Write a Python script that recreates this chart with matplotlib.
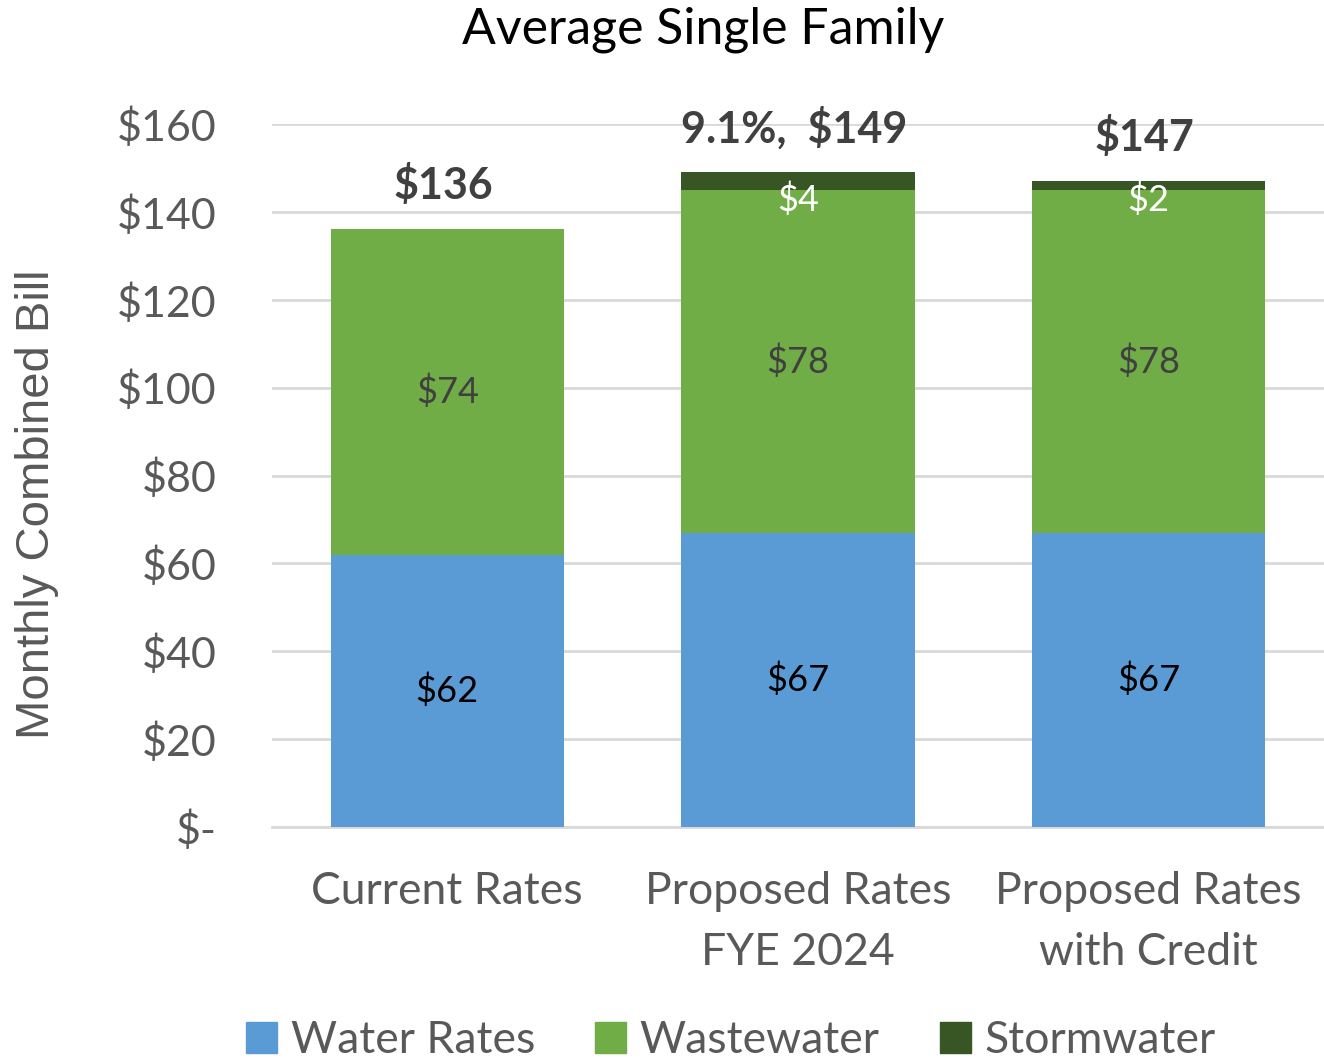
import matplotlib.pyplot as plt
from matplotlib.patches import Patch

# Datos del grafico
categorias = ['Current Rates', 'Proposed Rates\nFYE 2024', 'Proposed Rates\nwith Credit']
agua = [62, 67, 67]
aguas_residuales = [74, 78, 78]
pluvial = [0, 4, 2]
etiquetas_total = ['$136', '9.1%,  $149', '$147']
ticks_y = [0, 20, 40, 60, 80, 100, 120, 140, 160]
etiquetas_y = ['$-', '$20', '$40', '$60', '$80', '$100', '$120', '$140', '$160']

azul = '#5B9BD5'
verde = '#70AD47'
verde_osc = '#375623'
gris = '#595959'

plt.rcParams['font.family'] = ['Lato', 'DejaVu Sans']

fig = plt.figure(figsize=(13.24, 10.61), dpi=100)
ax = fig.add_axes([0.2054, 0.2205, 0.7946, 0.6626])

x = list(range(len(categorias)))
ancho = 0.665
base2 = [a + b for a, b in zip(agua, aguas_residuales)]
totales = [a + b + c for a, b, c in zip(agua, aguas_residuales, pluvial)]

ax.bar(x, agua, ancho, color=azul, zorder=3)
ax.bar(x, aguas_residuales, ancho, bottom=agua, color=verde, zorder=3)
ax.bar(x, pluvial, ancho, bottom=base2, color=verde_osc, zorder=3)

# Etiquetas dentro de las barras
for i in x:
    ax.text(i, agua[i] / 2, f'${agua[i]}', ha='center', va='center',
            fontsize=26, color='black', zorder=4)
    ax.text(i, agua[i] + aguas_residuales[i] / 2, f'${aguas_residuales[i]}',
            ha='center', va='center', fontsize=26, color='#404040', zorder=4)
    if pluvial[i] > 0:
        ax.annotate(f'${pluvial[i]}', (i, base2[i]), xytext=(0, -7),
                    textcoords='offset points', ha='center', va='center',
                    fontsize=26, color='white', zorder=4)
    ax.annotate(etiquetas_total[i], (i, totales[i]), xytext=(-3, 32),
                textcoords='offset points', ha='center', va='center',
                fontsize=31, fontweight='bold', color='#404040')

ax.set_xlim(-0.5, 2.5)
ax.set_ylim(0, 160)
ax.set_yticks(ticks_y)
ax.set_yticklabels(etiquetas_y)
ax.set_xticks(x)
ax.set_xticklabels(categorias, linespacing=1.6)
ax.tick_params(axis='y', length=0, labelsize=31, labelcolor=gris, pad=40)
ax.tick_params(axis='x', length=0, labelsize=32, labelcolor=gris, pad=32)
ax.grid(axis='y', color='#D9D9D9', linewidth=2, zorder=0)
for lado in ['top', 'right', 'left']:
    ax.spines[lado].set_visible(False)
ax.spines['bottom'].set_color('#D9D9D9')
ax.spines['bottom'].set_linewidth(2)

ax.set_ylabel('Monthly Combined Bill', fontsize=34, color=gris,
              family='Liberation Sans')
ax.yaxis.set_label_coords(-0.202, 0.459, transform=ax.transAxes)
fig.text(0.531, 0.972, 'Average Single Family', ha='center', va='center',
         fontsize=36, color='black')

handles = [Patch(color=azul, label='Water Rates'),
           Patch(color=verde, label='Wastewater'),
           Patch(color=verde_osc, label='Stormwater')]
fig.legend(handles=handles, loc='center', bbox_to_anchor=(0.552, 0.019), ncol=3,
           frameon=False, fontsize=32, labelcolor=gris, handlelength=0.7,
           handleheight=0.7, handletextpad=0.3, columnspacing=1.35)

fig.savefig('out.png', dpi=100)
